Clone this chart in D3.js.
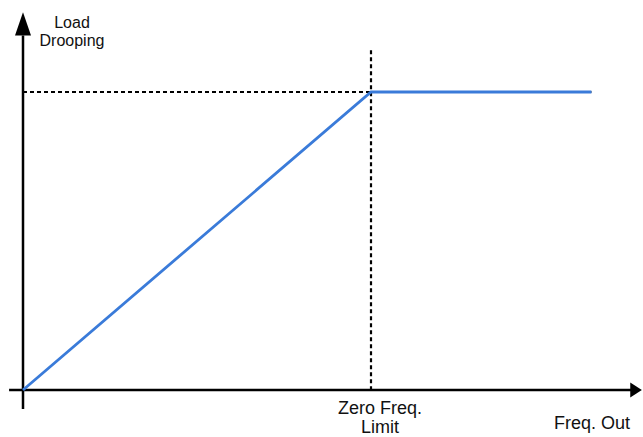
<!DOCTYPE html>
<html>
<head>
<meta charset="utf-8">
<script src="https://cdn.jsdelivr.net/npm/d3@7"></script>
<style>
  body { margin: 0; background: #fff; }
  text { font-family: "Liberation Sans", Arial, sans-serif; fill: #111; }
</style>
</head>
<body>
<svg id="chart" width="643" height="437"></svg>
<script>
(function () {
    'use strict';

    // drooping curve (freq %, droop %)
    var curveFreq = [0, 60, 98];
    var curveDroop = [0, 100, 100];
    var zeroFreqLimit = 60;
    var maxDroop = 100;
    var xLabels = ["Zero Freq.", "Limit"];
    var yLabels = ["Load", "Drooping"];
    var xTitle = "Freq. Out";

    var svg = d3.select("#chart");

    var x = d3.scaleLinear().domain([0, 100]).range([23, 603]);
    var y = d3.scaleLinear().domain([0, 100]).range([390, 92]);

    var data = curveFreq.map((f, i) => ({f: f, d: curveDroop[i]}));

    // axes
    svg.append('line')
       .attr('x1', x(0)).attr('x2', x(0))
       .attr('y1', y(-6.4)).attr('y2', y(119))
       .attr('stroke', '#000').attr('stroke-width', 2.5);
    svg.append('path')
       .attr('d', `M${x(0)},${y(126.8)} L${x(0)-8},${y(119)} L${x(0)+8},${y(119)} Z`)
       .attr('fill', '#000');

    svg.append('line')
       .attr('x1', x(-2.4)).attr('x2', x(105))
       .attr('y1', y(0)).attr('y2', y(0))
       .attr('stroke', '#000').attr('stroke-width', 2.5);
    svg.append('path')
       .attr('d', `M${x(106.7)},${y(0)} L${x(104.7)},${y(0)-7.5} L${x(104.7)},${y(0)+7.5} Z`)
       .attr('fill', '#000');

    // dashed guides
    svg.append('line')
       .attr('x1', x(0)).attr('x2', x(98))
       .attr('y1', y(maxDroop)).attr('y2', y(maxDroop))
       .attr('stroke', '#000').attr('stroke-width', 2.2)
       .attr('stroke-dasharray', '4,3');
    svg.append('line')
       .attr('x1', x(zeroFreqLimit)).attr('x2', x(zeroFreqLimit))
       .attr('y1', y(114)).attr('y2', y(0))
       .attr('stroke', '#000').attr('stroke-width', 2.2)
       .attr('stroke-dasharray', '4,3');

    // curve
    var line = d3.line().x(d => x(d.f)).y(d => y(d.d));
    svg.append('path')
       .datum(data)
       .attr('d', line)
       .attr('fill', 'none')
       .attr('stroke', '#3a7bd9')
       .attr('stroke-width', 2.8);

    // labels
    svg.selectAll('text.ylab')
       .data(yLabels)
       .enter()
       .append('text')
       .attr('class', 'ylab')
       .attr('x', 72)
       .attr('y', (d, i) => 28 + i * 18)
       .style('text-anchor', 'middle')
       .style('font-size', '16px')
       .text(d => d);

    svg.selectAll('text.xlab')
       .data(xLabels)
       .enter()
       .append('text')
       .attr('class', 'xlab')
       .attr('x', x(zeroFreqLimit) + 9)
       .attr('y', (d, i) => 414 + i * 19)
       .style('text-anchor', 'middle')
       .style('font-size', '18px')
       .text(d => d);

    svg.append('text')
       .attr('x', 630)
       .attr('y', 429)
       .style('text-anchor', 'end')
       .style('font-size', '18px')
       .text(xTitle);
}());
</script>
</body>
</html>
